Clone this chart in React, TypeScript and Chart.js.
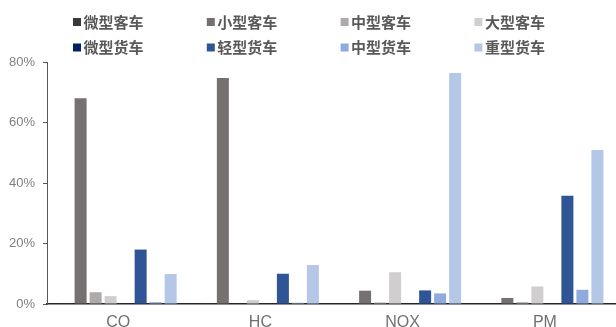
import React, { useEffect, useRef } from "react";
import { Chart, registerables } from "chart.js";

Chart.register(...registerables);

// Pollutant categories on the x axis
const categories = ["CO", "HC", "NOX", "PM"];

// Vehicle types (legend order)
const seriesNames = [
  "微型客车",
  "小型客车",
  "中型客车",
  "大型客车",
  "微型货车",
  "轻型货车",
  "中型货车",
  "重型货车",
];

// Share of each pollutant by vehicle type, in percent
const microBus = [0.3, 0.3, 0, 0];
const smallBus = [68.0, 74.7, 4.4, 2.0];
const mediumBus = [3.9, 0, 0.5, 0.6];
const largeBus = [2.6, 1.3, 10.5, 5.8];
const microTruck = [0, 0, 0, 0];
const lightTruck = [18.0, 10.0, 4.5, 35.8];
const mediumTruck = [0.6, 0.4, 3.5, 4.7];
const heavyTruck = [9.9, 12.9, 76.4, 50.9];

const seriesValues = [
  microBus,
  smallBus,
  mediumBus,
  largeBus,
  microTruck,
  lightTruck,
  mediumTruck,
  heavyTruck,
];

const seriesColors = [
  "#3B3838",
  "#767171",
  "#AEAAAA",
  "#D0CECE",
  "#002060",
  "#2F5597",
  "#8FAADC",
  "#B4C7E7",
];

// Y axis ticks (percent)
const yTicks = [0, 20, 40, 60, 80];

// Two-row, four-column legend drawn at the top of the canvas
const gridLegend = {
  id: "gridLegend",
  afterDraw(chart: any) {
    const ctx = chart.ctx as CanvasRenderingContext2D;
    ctx.save();
    ctx.font = 'bold 15px "Noto Sans CJK SC", sans-serif';
    ctx.textBaseline = "middle";
    ctx.textAlign = "left";
    chart.data.datasets.forEach((ds: any, i: number) => {
      const col = i % 4;
      const row = Math.floor(i / 4);
      const x = 73 + col * 133.8;
      const y = 22 + row * 25.5;
      ctx.fillStyle = ds.backgroundColor;
      ctx.fillRect(x, y - 4, 8, 8);
      ctx.fillStyle = "#595959";
      ctx.fillText(ds.label, x + 10.5, y);
    });
    ctx.restore();
  },
};

export default function App() {
  const canvasRef = useRef<HTMLCanvasElement | null>(null);

  useEffect(() => {
    if (!canvasRef.current) return;
    const chart = new Chart(canvasRef.current, {
      type: "bar",
      data: {
        labels: categories,
        datasets: seriesNames.map((name, i) => ({
          label: name,
          data: seriesValues[i],
          backgroundColor: seriesColors[i],
          borderWidth: 0,
          barPercentage: 0.8,
          categoryPercentage: 0.844,
        })),
      },
      options: {
        responsive: false,
        animation: false,
        layout: { padding: { top: 62, right: 0, left: 0, bottom: 0 } },
        plugins: {
          legend: { display: false },
          tooltip: { enabled: false },
        },
        scales: {
          x: {
            grid: { display: true, drawOnChartArea: false, drawTicks: false },
            border: { display: true, color: "#262626", width: 1.5 },
            ticks: {
              color: "#707070",
              padding: 9,
              font: { family: '"Liberation Sans", sans-serif', size: 16 },
            },
            afterFit(scale: any) {
              scale.height = 23;
            },
          },
          y: {
            min: 0,
            max: 80,
            afterBuildTicks(scale: any) {
              scale.ticks = yTicks.map((v) => ({ value: v }));
            },
            grid: {
              display: true,
              drawOnChartArea: false,
              drawTicks: true,
              tickLength: 4,
              color: "#595959",
            },
            border: { display: true, color: "#595959", width: 1 },
            ticks: {
              color: "#808080",
              padding: 8,
              font: { family: '"Liberation Sans", sans-serif', size: 13 },
              callback: (v: any) => `${v}%`,
            },
            afterFit(scale: any) {
              scale.width = 47;
            },
          },
        },
      },
      plugins: [gridLegend],
    });
    return () => chart.destroy();
  }, []);

  return (
    <div style={{ position: "absolute", left: 0, top: 0, width: 616, height: 327, background: "#fff" }}>
      <canvas ref={canvasRef} width={616} height={327} />
    </div>
  );
}
